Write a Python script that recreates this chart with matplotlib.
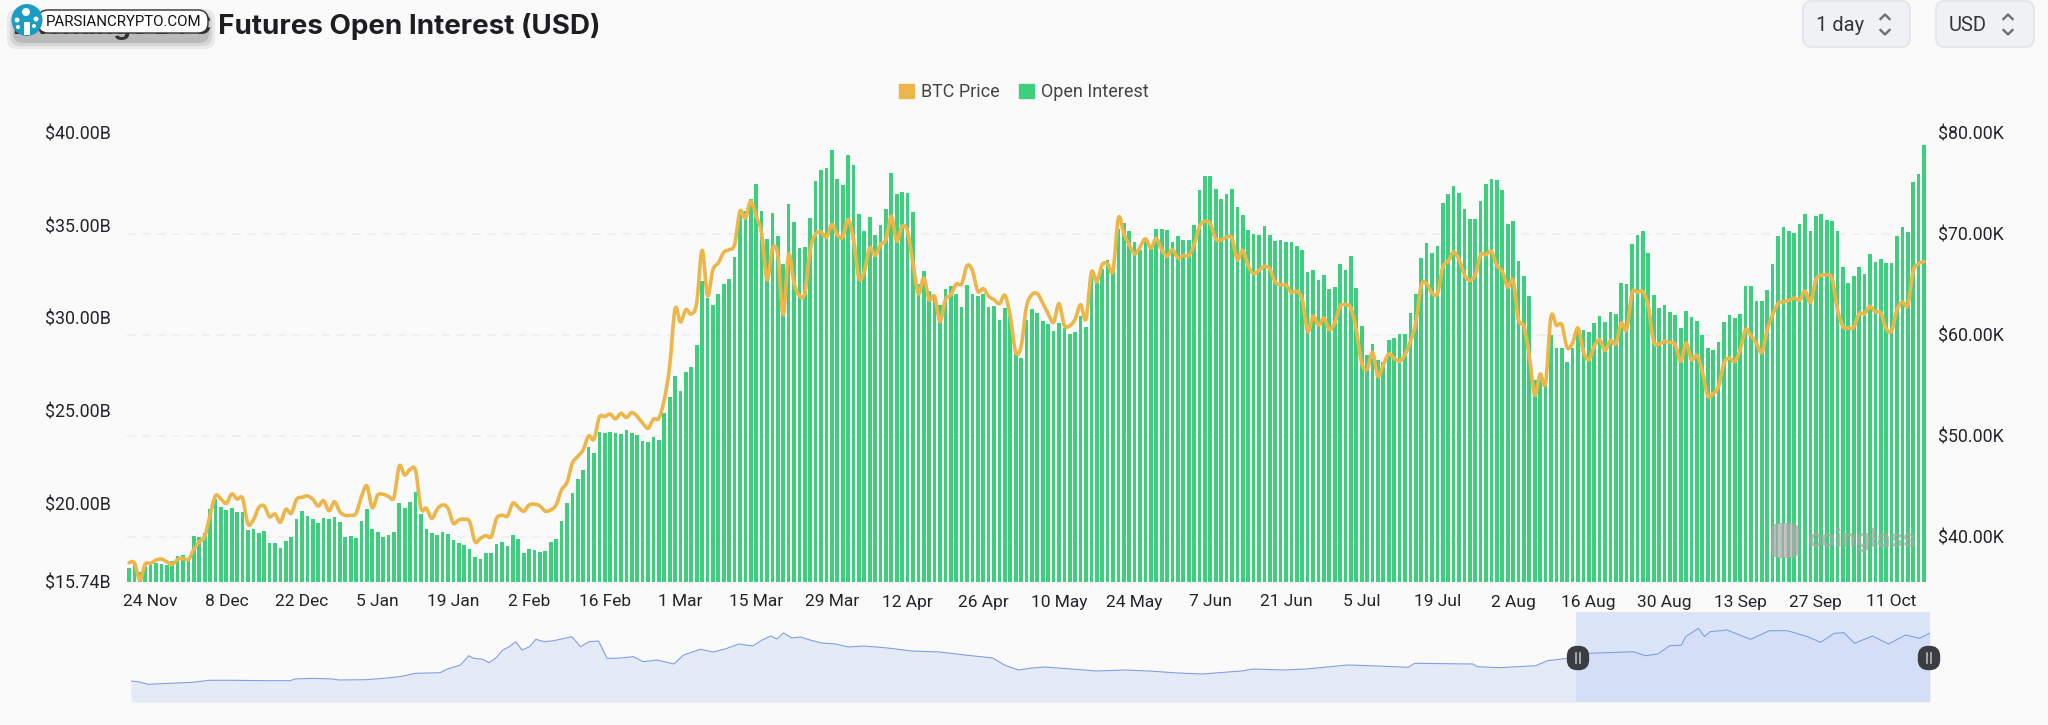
#!/usr/bin/env python3

# Futures open interest bars with BTC price line and a range navigator below

import numpy as np
import matplotlib
matplotlib.use("Agg")
import matplotlib.pyplot as plt
from matplotlib.patches import FancyBboxPatch, Patch, Ellipse, Rectangle, PathPatch
from matplotlib.path import Path

# Open interest in USD billions, one value per day
oi_billion = [
    16.49, 16.71, 16.30, 16.60, 16.84, 16.78, 16.71, 16.67, 16.89, 17.14, 17.21, 16.89, 18.24, 18.18, 18.36,
    19.66, 20.23, 19.80, 19.62, 19.71, 19.51, 19.51, 18.56, 18.62, 18.38, 18.47, 17.82, 17.86, 17.59, 17.93,
    18.17, 19.12, 19.55, 19.30, 19.15, 18.90, 19.17, 19.15, 19.23, 18.99, 18.15, 18.22, 18.09, 19.03, 19.68,
    18.58, 18.45, 18.18, 18.29, 18.44, 19.98, 19.73, 20.05, 20.61, 19.42,
    18.58, 18.36, 18.26, 18.45, 18.33, 18.00, 17.82, 17.72, 17.52, 17.07, 17.00, 17.30, 17.32, 17.81, 17.90,
    17.66, 18.26, 18.08, 17.29, 17.50, 17.48, 17.38, 17.41, 17.90, 18.04, 19.03, 20.02, 20.52, 21.29, 21.80,
    23.04, 22.68, 23.83, 23.79, 23.83, 23.79, 23.72, 23.95, 23.79, 23.66, 23.34, 23.29, 23.54, 23.43, 24.85,
    25.70, 26.88, 26.07, 27.08, 27.37, 28.52, 31.98, 31.07, 30.69, 31.27, 31.81,
    32.11, 33.28, 35.58, 35.76, 36.41, 37.23, 35.79, 34.27, 35.63, 34.41, 32.92, 36.15, 35.15, 33.76, 33.80,
    35.40, 37.39, 38.00, 38.09, 39.03, 37.50, 37.14, 38.78, 38.26, 35.58, 34.68, 35.44, 34.45, 35.00, 35.85,
    37.82, 36.67, 36.78, 36.71, 35.70, 31.81, 32.54, 31.46, 31.18, 30.71, 31.54, 31.73, 31.28, 30.58, 31.75,
    31.30, 31.19, 31.27, 30.57, 30.64, 29.90, 30.53, 30.10, 28.07, 27.85,
    29.86, 30.49, 30.28, 29.85, 29.68, 29.31, 29.74, 29.45, 29.11, 29.22, 30.12, 29.51, 32.20, 31.88, 32.61,
    33.10, 32.65, 34.81, 35.11, 34.68, 34.07, 33.64, 34.29, 33.78, 34.77, 34.77, 34.75, 34.11, 34.41, 34.18,
    34.18, 35.02, 36.89, 37.63, 37.66, 36.93, 36.39, 36.66, 36.96, 35.96, 35.54, 34.75, 34.50, 34.48, 34.93,
    34.47, 34.12, 34.18, 34.07, 34.07, 33.85, 33.64, 32.49, 32.56, 32.06, 32.33,
    31.57, 31.66, 32.92, 32.60, 33.33, 31.63, 29.54, 27.98, 28.57, 27.74, 27.60, 28.82, 28.89, 29.15, 29.15,
    30.26, 31.27, 33.22, 34.05, 33.49, 33.85, 36.21, 36.67, 37.11, 36.73, 35.88, 35.35, 35.35, 36.28, 37.20,
    37.47, 37.45, 36.91, 35.08, 35.22, 33.08, 32.24, 31.19, 26.63, 26.99, 26.72, 29.06, 28.37, 28.37, 27.64,
    28.37, 29.42, 29.33, 29.24, 29.72, 30.12, 29.79, 30.30, 30.21, 31.90,
    31.84, 34.00, 34.45, 34.70, 33.49, 31.21, 30.53, 30.71, 30.31, 30.17, 29.47, 30.39, 30.06, 29.85, 29.06,
    28.39, 28.28, 28.68, 29.79, 30.17, 30.01, 30.21, 31.72, 31.72, 30.91, 30.91, 31.50, 32.92, 34.39, 34.91,
    34.70, 34.55, 35.04, 35.58, 34.68, 35.49, 35.61, 35.26, 35.22, 34.66, 32.72, 31.86, 32.24, 32.76, 32.36,
    33.46, 32.99, 33.19, 32.97, 32.97, 34.39, 34.90, 34.61, 37.32, 37.75, 39.33,
]

# BTC price in USD thousands, same days
price_k = [
    37.45, 37.45, 35.74, 37.32, 37.39, 37.72, 37.82, 37.55, 37.29, 37.78, 37.88, 37.78, 38.77, 39.53, 40.03,
    42.17, 44.09, 43.76, 43.33, 44.25, 43.76, 43.82, 41.28, 41.68, 42.90, 43.07, 42.01, 42.27, 41.45, 42.74,
    42.34, 43.73, 43.92, 44.06, 43.73, 43.07, 43.59, 42.60, 43.49, 42.50, 42.14, 42.14, 42.34, 43.99, 45.05,
    42.90, 44.15, 44.22, 44.02, 43.92, 47.03, 46.13, 46.70, 46.56, 42.83,
    42.84, 41.85, 42.74, 43.17, 42.84, 41.36, 41.69, 41.75, 41.52, 39.54, 39.87, 40.14, 40.04, 41.85, 42.15,
    42.08, 43.34, 42.94, 42.55, 43.17, 43.24, 43.07, 42.55, 42.68, 43.17, 44.66, 45.38, 47.30, 47.96, 48.62,
    50.00, 49.67, 51.85, 51.92, 52.15, 51.69, 52.22, 51.82, 52.31, 51.92, 51.26, 50.76, 51.65, 51.75, 53.57,
    56.87, 62.55, 61.26, 62.48, 62.05, 63.14, 68.35, 63.87, 66.44, 67.10, 68.15,
    68.42, 68.91, 72.21, 71.55, 73.20, 71.72, 70.07, 65.45, 68.48, 67.92, 61.98, 67.92, 65.12, 63.86, 64.13,
    68.42, 69.97, 70.14, 69.64, 70.89, 69.90, 69.64, 71.39, 69.41, 65.61, 66.27, 68.58, 67.86, 68.91, 69.41,
    71.72, 69.24, 70.73, 70.23, 67.10, 64.06, 65.61, 63.47, 63.80, 61.32, 63.47, 63.96, 65.02, 65.02, 66.83,
    66.34, 64.29, 64.56, 63.80, 63.47, 63.07, 63.90, 61.82, 58.30, 58.84,
    62.80, 63.96, 64.06, 63.14, 62.08, 61.22, 63.07, 60.93, 60.89, 61.55, 62.97, 61.55, 66.17, 65.25, 66.93,
    67.03, 66.34, 71.55, 70.00, 68.91, 67.99, 68.68, 69.48, 68.58, 69.51, 68.42, 67.76, 68.42, 67.59, 67.83,
    67.83, 68.91, 70.73, 71.22, 70.96, 69.48, 69.38, 69.64, 69.57, 67.43, 68.35, 66.83, 66.04, 66.37, 66.77,
    66.50, 65.22, 64.95, 64.92, 64.19, 64.29, 63.47, 60.33, 61.82, 60.93, 61.65,
    60.50, 61.16, 62.81, 62.97, 62.64, 60.50, 57.20, 56.60, 58.25, 55.88, 57.03, 58.09, 57.69, 57.40, 58.02,
    59.34, 61.16, 64.85, 65.05, 64.13, 64.06, 66.70, 67.26, 68.19, 67.43, 65.94, 65.38, 65.94, 67.92, 67.92,
    68.25, 66.83, 66.27, 64.72, 65.38, 61.49, 60.83, 57.86, 54.06, 56.11, 55.22, 61.75, 60.93, 60.99, 58.72,
    59.18, 60.66, 58.35, 57.53, 58.85, 59.51, 58.45, 59.44, 59.11, 61.16,
    60.50, 64.13, 64.19, 64.26, 62.81, 59.34, 59.08, 59.34, 59.24, 59.01, 57.36, 59.18, 57.53, 57.96, 56.37,
    53.96, 54.16, 54.89, 57.20, 57.69, 57.36, 58.52, 60.50, 59.90, 59.18, 58.25, 60.50, 61.98, 63.07, 63.27,
    63.40, 63.63, 63.44, 64.33, 63.20, 65.45, 65.88, 65.91, 65.55, 62.48, 60.83, 60.66, 60.76, 62.08, 62.08,
    62.81, 62.28, 62.15, 60.60, 60.37, 62.48, 63.24, 62.91, 66.27, 67.03, 67.23,
]

tick_labels = ["24 Nov", "8 Dec", "22 Dec", "5 Jan", "19 Jan", "2 Feb", "16 Feb", "1 Mar", "15 Mar", "29 Mar",
               "12 Apr", "26 Apr", "10 May", "24 May", "7 Jun", "21 Jun", "5 Jul", "19 Jul", "2 Aug", "16 Aug",
               "30 Aug", "13 Sep", "27 Sep", "11 Oct"]
left_ticks = [15.74, 20, 25, 30, 35, 40]
right_ticks = [40, 50, 60, 70, 80]

# Navigator overview, sampled unevenly (day number, relative height)
nav_days = [0, 7, 16, 37, 58, 74, 95, 129, 150, 154, 171, 190, 196, 221, 238, 253, 268, 291, 297, 310, 318, 322,
            331, 337, 343, 350, 356, 362, 368, 375, 381, 389, 398, 415, 423, 431, 440, 448, 457, 473, 482, 495,
            511, 520, 536, 548, 559, 572, 585, 594, 602, 608, 614, 622, 630, 639, 650, 663, 675, 690, 712, 735,
            761, 785, 811, 822, 835, 848, 860, 885, 909, 935, 958, 985, 1008, 1045, 1057, 1085, 1106,
            1145, 1166, 1202, 1208, 1263, 1267, 1288, 1322, 1333, 1352, 1372, 1414, 1425, 1437, 1448, 1459,
            1463, 1475, 1481, 1486, 1502, 1524, 1542, 1559, 1578, 1590, 1603, 1612, 1622, 1639, 1654, 1670,
            1683, 1693]
nav_values = [21, 20.3, 17.7, 18.7, 19.7, 21.7, 21.7, 21.3, 21.3, 23, 23.7, 23, 22, 22.3, 23.7, 25.3, 28.7, 29.3,
              32.7, 37, 46.3, 43.7, 42.7, 39.3, 43.7, 52, 55.3, 60.3, 52, 55.3, 62.7, 60.3, 61.3, 65.3, 55.3,
              60.3, 61, 43.7, 43.7, 45.3, 40.3, 42, 38, 47, 52.7, 50, 53, 58, 56, 62, 66, 63, 69, 64, 65, 62, 59,
              58, 55, 56, 54, 51, 50, 47, 44, 37, 32, 34, 35, 33, 31, 32, 31, 29, 28, 31, 33, 32, 33,
              37, 36.3, 34.7, 38.7, 38, 35.3, 34.3, 36.3, 41.3, 43.7, 48.7, 50.3, 46.3, 48, 56.3,
              56.7, 65.3, 73.7, 65.3, 70.3, 72, 62.7, 71.3, 71.3, 65.3, 59.7, 68.7, 69.3, 58.7, 66, 58, 67, 63.7,
              68.7]

W, H = 2048, 725
BG = "#fafafa"
GREEN = "#3ecf7e"
GOLD = "#ecb64a"
TEXT = "#222428"

plt.rcParams["font.family"] = ["Roboto", "DejaVu Sans"]


def box(x0, y0, x1, y1):
    # pixel box (y from the top) to figure fractions
    return [x0 / W, 1 - y1 / H, (x1 - x0) / W, (y1 - y0) / H]


def smooth_path(xs, ys):
    # bezier through the daily points, the line on the site is drawn smoothed
    p = np.column_stack([xs, ys]).astype(float)
    q = np.vstack([p[0], p, p[-1]])
    verts = [p[0]]
    codes = [Path.MOVETO]
    for i in range(1, len(q) - 2):
        verts.append(q[i] + (q[i + 1] - q[i - 1]) / 6)
        verts.append(q[i + 1] - (q[i + 2] - q[i]) / 6)
        verts.append(q[i + 1])
        codes += [Path.CURVE4] * 3
    return Path(verts, codes)


fig = plt.figure(figsize=(W / 100, H / 100), dpi=100, facecolor=BG)

ax = fig.add_axes(box(127, 132.5, 1926, 582))
ax.set_facecolor(BG)
x = np.arange(len(oi_billion))
left_lim = (15.74, 40)
right_lim = (35.55, 80)

# grid belongs to the right axis, but has to sit under the bars
for t in right_ticks:
    g = left_lim[0] + (t - right_lim[0]) / (right_lim[1] - right_lim[0]) * (left_lim[1] - left_lim[0])
    ax.axhline(g, color="#efefef", lw=1.2, ls=(0, (5, 4)), zorder=0)

ax.bar(x, oi_billion, width=0.68, color=GREEN, zorder=2)
ax.set_xlim(-0.37, 332.37)
ax.set_ylim(*left_lim)
ax.set_xticks(np.arange(len(tick_labels)) * 14 + 4)
ax.set_xticklabels(tick_labels)
ax.set_yticks(left_ticks)
ax.set_yticklabels([f"${t:.2f}B" for t in left_ticks])
ax.tick_params(axis="x", length=0, pad=9, labelsize=12.5, labelcolor=TEXT)
ax.tick_params(axis="y", length=0, pad=11.5, labelsize=12.8, labelcolor=TEXT)
for s in ax.spines.values():
    s.set_visible(False)

ax2 = ax.twinx()
ax2.add_patch(PathPatch(smooth_path(x, price_k), fc="none", ec=GOLD, lw=2.6, joinstyle="round", capstyle="round"))
ax2.set_ylim(*right_lim)
ax2.set_yticks(right_ticks)
ax2.set_yticklabels([f"${t:.2f}K" for t in right_ticks])
ax2.tick_params(axis="y", length=0, pad=8.4, labelsize=12.8, labelcolor=TEXT)
for s in ax2.spines.values():
    s.set_visible(False)

fig.legend(handles=[Patch(color=GOLD, label="BTC Price"), Patch(color=GREEN, label="Open Interest")],
           loc="center", bbox_to_anchor=(0.5, 1 - 92 / H), ncol=2, frameon=False, fontsize=13,
           handlelength=0.85, handleheight=0.85, handletextpad=0.4, columnspacing=1.05, labelcolor="#444444")

# navigator
nav = fig.add_axes(box(131, 612, 1930, 702))
nav.set_xlim(0, 1693)
nav.set_ylim(0, 90)
nav.axis("off")
nav.fill_between(nav_days, nav_values, color="#e5eaf7", lw=0)
nav.plot(nav_days, nav_values, color="#7f9fe6", lw=0.8)
nav.axvspan(1360, 1693, color="#c9d8f8", alpha=0.6, lw=0)

# everything that is page furniture goes on a pixel overlay
ov = fig.add_axes([0, 0, 1, 1], zorder=10)
ov.set_xlim(0, W)
ov.set_ylim(H, 0)
ov.axis("off")

for hx in (1578, 1929):
    ov.add_patch(FancyBboxPatch((hx - 7, 650), 14, 16, boxstyle="round,pad=0,rounding_size=6",
                                fc="#3a3d42", ec="#3a3d42", lw=6))
    ov.plot([hx - 2, hx - 2], [653, 663], color="#b5b8bd", lw=1.2)
    ov.plot([hx + 2, hx + 2], [653, 663], color="#b5b8bd", lw=1.2)

# watermark
ov.text(1808, 540, "coinglass", fontsize=18, fontweight="bold", color="#a8a8a8", alpha=0.75, va="center")
ov.add_patch(FancyBboxPatch((1771, 523), 28, 35, boxstyle="round,pad=0,rounding_size=8",
                            fc="#a8a8a8", ec="none", alpha=0.75))
for sx in (1779, 1785, 1791):
    ov.plot([sx, sx], [525, 556], color="#c4c4c4", lw=1.5)

# title, the logo pill sits over its first words
ov.text(600, 26, "Exchange BTC Futures Open Interest (USD)", ha="right", va="center", fontsize=20,
        fontweight="bold", color="#1c1e21", family=["Inter", "DejaVu Sans"], zorder=1)

for pad, a in ((9, 0.10), (6, 0.14), (3, 0.20)):
    ov.add_patch(FancyBboxPatch((16 - pad, 18 - pad), 190 + 2 * pad, 22 + 2 * pad,
                                boxstyle="round,pad=0,rounding_size=10", fc="#555555", ec="none", alpha=a, zorder=2))
ov.add_patch(FancyBboxPatch((38, 10), 170, 23, boxstyle="round,pad=0,rounding_size=10",
                            fc="white", ec="#333333", lw=1, zorder=4))
ov.text(124, 22, "PARSIANCRYPTO.COM", ha="center", va="center", fontsize=10.8, color="#111111", zorder=5)
ov.add_patch(Ellipse((27, 20), 31, 32, fc="#1b9cc2", ec="none", zorder=6))
ov.add_patch(Rectangle((24, 22), 6, 13, fc="white", ec="none", zorder=7))
for cx, cy, r in ((26, 12, 4), (17, 20, 2.5), (36, 19, 2.5), (18, 27, 2), (34, 26, 2)):
    ov.add_patch(Ellipse((cx, cy), 2 * r, 2 * r, fc="white", ec="none", zorder=7))

# selectors
for bx0, bx1, label, lx, cx in ((1803, 1910, "1 day", 1816, 1885), (1936, 2034, "USD", 1949, 2008)):
    ov.add_patch(FancyBboxPatch((bx0, 1), bx1 - bx0, 46, boxstyle="round,pad=0,rounding_size=9",
                                fc="#f0f1f4", ec="#e5e7ea", lw=1.5))
    ov.text(lx, 25, label, va="center", fontsize=14.5, color="#33363a")
    ov.plot([cx - 4.5, cx, cx + 4.5], [19, 14.5, 19], color="#6c6e72", lw=1.7)
    ov.plot([cx - 4.5, cx, cx + 4.5], [30, 34.5, 30], color="#6c6e72", lw=1.7)

fig.savefig("out.png", dpi=100, facecolor=BG)
